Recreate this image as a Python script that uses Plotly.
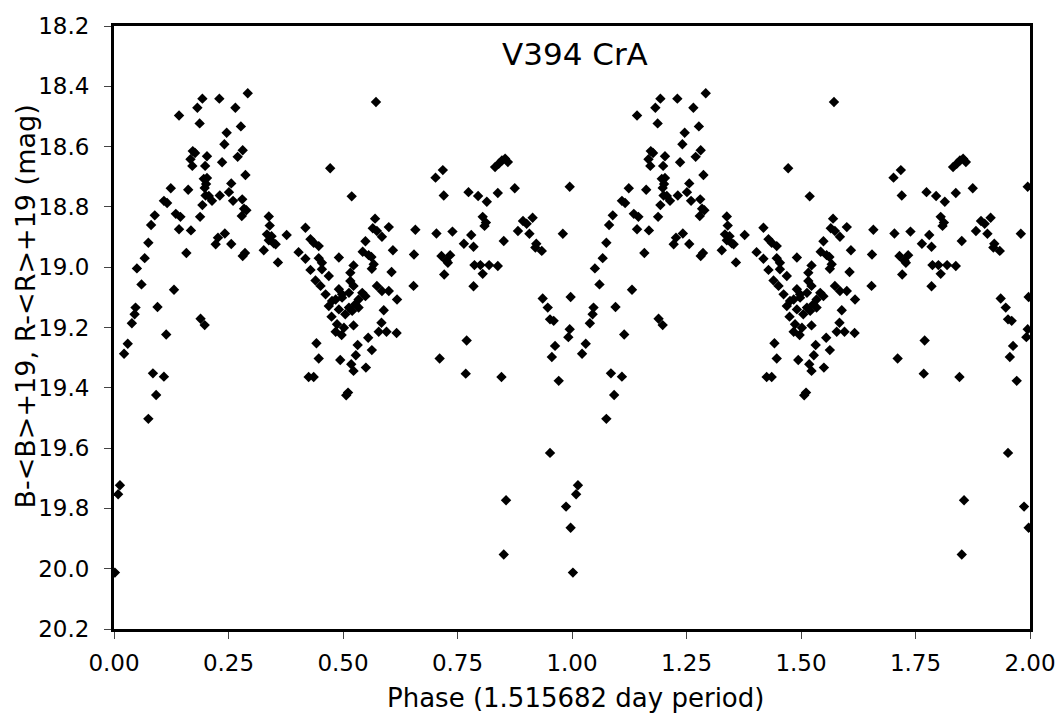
import plotly.graph_objects as go

# Phase (one cycle) and magnitude
phase = [0.292,0.193,0.230,0.182,0.265,0.142,0.187,0.277,0.246,0.241,0.172,0.177,0.281,0.203,0.270,
         0.167,0.236,0.171,0.199,0.287,0.196,0.203,0.201,0.198,0.256,0.124,0.162,0.251,0.200,0.207,
         0.231,0.109,0.116,0.214,0.260,0.280,0.193,0.284,0.289,0.279,0.089,0.135,0.145,0.188,0.081,
         0.142,0.168,0.242,0.227,0.075,0.222,0.256,0.158,0.286,0.281,0.067,0.050,0.060,0.131,0.047,
         0.045,0.095,0.039,0.189,0.198,0.114,0.030,0.022,0.085,0.109,0.092,0.075,0.013,0.009,0.002,
         0.572,0.472,0.519,0.338,0.570,0.340,0.418,0.565,0.574,0.600,0.585,0.658,0.334,0.344,0.338,
         0.349,0.327,0.353,0.377,0.429,0.436,0.447,0.549,0.403,0.609,0.655,0.358,0.543,0.556,0.562,
         0.491,0.418,0.447,0.454,0.523,0.567,0.563,0.429,0.454,0.469,0.516,0.516,0.606,0.440,0.451,
         0.654,0.574,0.585,0.600,0.523,0.462,0.491,0.498,0.513,0.542,0.549,0.534,0.484,0.618,0.476,
         0.498,0.469,0.491,0.513,0.527,0.505,0.520,0.534,0.589,0.475,0.487,0.502,0.523,0.584,0.484,
         0.497,0.578,0.595,0.617,0.555,0.442,0.532,0.563,0.447,0.494,0.528,0.518,0.523,0.550,0.425,
         0.436,0.511,0.507,
         0.854,0.847,0.840,0.832,0.860,0.718,0.702,0.720,0.774,0.795,0.814,0.838,0.875,0.995,0.805,
         0.812,0.809,0.893,0.901,0.914,0.704,0.739,0.780,0.882,0.907,0.980,0.764,0.785,0.851,0.922,
         0.920,0.934,0.715,0.734,0.726,0.729,0.787,0.800,0.819,0.838,0.721,0.805,0.785,0.936,0.997,
         0.947,0.952,0.960,0.995,0.992,0.963,0.956,0.770,0.711,0.768,0.846,0.971,0.952,0.856,0.987,
         0.997,0.851]
mag = [18.423,18.441,18.441,18.471,18.471,18.497,18.523,18.533,18.554,18.592,18.615,18.621,18.612,18.632,18.634,
       18.642,18.652,18.664,18.664,18.694,18.707,18.704,18.724,18.737,18.722,18.738,18.743,18.751,18.762,18.764,
       18.762,18.780,18.787,18.780,18.780,18.775,18.794,18.806,18.811,18.830,18.828,18.823,18.833,18.833,18.860,
       18.874,18.878,18.888,18.902,18.919,18.924,18.923,18.953,18.953,18.963,18.970,19.004,19.057,19.075,19.134,
       19.156,19.132,19.186,19.171,19.192,19.223,19.254,19.287,19.352,19.363,19.424,19.503,19.723,19.753,20.013,
       18.452,18.672,18.765,18.832,18.839,18.862,18.869,18.871,18.880,18.867,18.899,18.876,18.891,18.897,18.911,
       18.921,18.944,18.924,18.893,18.907,18.919,18.930,18.914,18.950,18.944,18.958,18.984,18.949,18.960,18.966,
       18.968,18.972,18.970,18.985,18.994,18.990,19.005,19.009,19.007,19.029,19.018,19.046,19.016,19.044,19.062,
       19.062,19.062,19.079,19.079,19.062,19.090,19.073,19.090,19.085,19.085,19.096,19.107,19.107,19.107,19.112,
       19.101,19.129,19.140,19.134,19.123,19.156,19.145,19.134,19.143,19.164,19.189,19.201,19.193,19.184,19.214,
       19.225,19.214,19.214,19.218,19.234,19.252,19.258,19.275,19.303,19.308,19.292,19.322,19.344,19.333,19.364,
       19.364,19.416,19.425,
       18.640,18.646,18.657,18.668,18.651,18.678,18.703,18.762,18.751,18.764,18.783,18.754,18.738,18.733,18.833,
       18.852,18.863,18.847,18.856,18.836,18.888,18.882,18.893,18.880,18.889,18.889,18.922,18.932,18.913,18.922,
       18.935,18.946,18.963,18.960,18.979,18.985,18.993,18.993,18.993,18.996,19.024,19.022,19.063,19.104,19.099,
       19.134,19.173,19.178,19.206,19.232,19.261,19.298,19.243,19.303,19.353,19.364,19.377,19.616,19.773,19.794,
       19.864,19.953]

title_text = "V394 CrA"
x_title = "Phase (1.515682 day period)"
y_title = "B-&lt;B&gt;+19, R-&lt;R&gt;+19 (mag)"
x_ticks = [0, 0.25, 0.5, 0.75, 1.0, 1.25, 1.5, 1.75, 2.0]
y_ticks = [18.2, 18.4, 18.6, 18.8, 19.0, 19.2, 19.4, 19.6, 19.8, 20.0, 20.2]

# Two cycles: phase and phase + 1
xs = phase + [p + 1 for p in phase]
ys = mag + mag

FONT = "DejaVu Sans"

fig = go.Figure()
fig.add_trace(go.Scatter(
    x=xs, y=ys, mode="markers",
    marker=dict(symbol="diamond", size=8, color="black", line=dict(width=0)),
    showlegend=False, cliponaxis=True,
))

fig.update_layout(
    width=1063, height=713,
    margin=dict(l=106, r=41, t=18, b=92, autoexpand=False),
    paper_bgcolor="white", plot_bgcolor="white",
    font=dict(family=FONT, size=23, color="black"),
    annotations=[
        dict(text=title_text, xref="paper", yref="paper", x=0.503, y=0.953,
             xanchor="center", yanchor="middle", showarrow=False,
             font=dict(family=FONT, size=31, color="black")),
        dict(text=x_title, xref="paper", yref="paper", x=0.504, y=-0.114,
             xanchor="center", yanchor="middle", showarrow=False,
             font=dict(family=FONT, size=26, color="black")),
        dict(text=y_title, xref="paper", yref="paper", x=-0.097, y=0.535,
             xanchor="center", yanchor="middle", showarrow=False, textangle=-90,
             font=dict(family=FONT, size=27, color="black")),
    ],
)
fig.update_xaxes(
    range=[0, 2], tickvals=x_ticks, ticktext=[f"{v:.2f}" for v in x_ticks],
    showgrid=False, zeroline=False, automargin=False,
    showline=True, linecolor="black", linewidth=3, mirror=True,
    ticks="outside", ticklen=7, tickwidth=1, tickcolor="#444",
    ticklabelstandoff=4,
    tickfont=dict(family=FONT, size=23),
)
fig.update_yaxes(
    range=[20.2, 18.2], tickvals=y_ticks, ticktext=[f"{v:.1f}" for v in y_ticks],
    showgrid=False, zeroline=False, automargin=False,
    showline=True, linecolor="black", linewidth=3, mirror=True,
    ticks="outside", ticklen=7, tickwidth=1, tickcolor="#444",
    ticklabelstandoff=10,
    tickfont=dict(family=FONT, size=23),
)

fig.write_html("out.html")
